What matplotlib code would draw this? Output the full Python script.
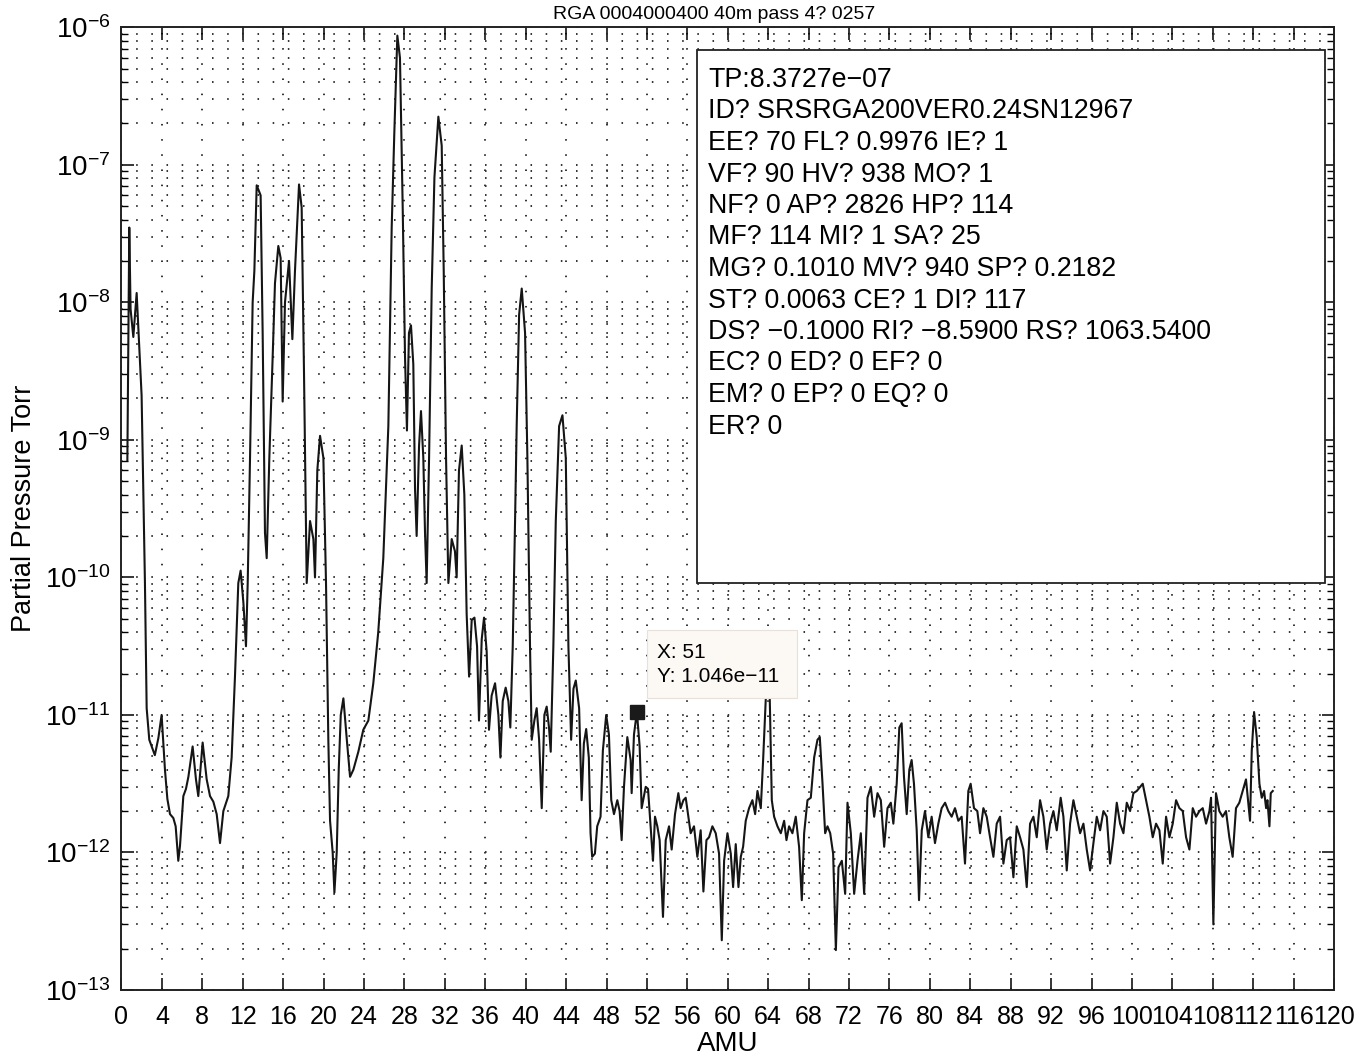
import matplotlib
matplotlib.use("Agg")
import matplotlib.pyplot as plt
from matplotlib.patches import Rectangle
from matplotlib.ticker import LogLocator, FixedLocator, NullFormatter, LogFormatterSciNotation

plt.rcParams['font.family'] = ['Liberation Sans', 'DejaVu Sans']

# ---- data (AMU, partial pressure in Torr) ----
amu = [0.58, 0.77, 0.9, 1.17, 1.5, 1.99, 2.32, 2.49, 2.75, 3.3, 3.65, 3.97, 4.3, 4.54, 4.8,
       5.13, 5.36, 5.62, 5.79, 6.12, 6.38, 6.62, 7.04, 7.37, 7.6, 8.03, 8.43, 8.76, 9.09, 9.42,
       9.75, 10.08, 10.57, 10.9, 11.23, 11.56, 11.79, 12.06, 12.32, 12.49, 12.72, 12.98, 13.15,
       13.38, 13.77, 13.97, 14.2, 14.37, 14.63, 14.96, 15.19, 15.52, 15.75, 15.95, 16.18, 16.58,
       16.91, 17.17, 17.57, 17.83, 18.06, 18.33, 18.66, 18.99, 19.15, 19.38, 19.65, 19.98, 20.24,
       20.47, 20.64, 20.9, 21.07, 21.3, 21.5, 21.7, 21.96, 22.3, 22.62, 22.95, 23.44, 23.93,
       24.43, 24.92, 25.41, 25.91, 26.41, 26.74, 27.0, 27.3, 27.56, 27.83, 28.06, 28.25, 28.45,
       28.65, 28.88, 29.05, 29.21, 29.45, 29.64, 29.87, 30.04, 30.2, 30.44, 30.7, 30.97, 31.36,
       31.69, 31.89, 32.12, 32.35, 32.68, 33.0, 33.17, 33.4, 33.67, 33.93, 34.16, 34.4, 34.66,
       34.93, 35.19, 35.38, 35.65, 35.88, 36.14, 36.37, 36.63, 36.97, 37.3, 37.5, 37.73, 38.02,
       38.29, 38.48, 38.72, 38.95, 39.11, 39.35, 39.61, 39.94, 40.17, 40.43, 40.6, 40.86, 41.09,
       41.33, 41.59, 41.85, 42.08, 42.31, 42.48, 42.74, 42.98, 43.31, 43.64, 43.97, 44.23, 44.5,
       44.73, 44.96, 45.29, 45.54, 45.76, 45.99, 46.25, 46.42, 46.58, 46.85, 47.08, 47.41, 47.64,
       47.97, 48.24, 48.47, 48.74, 49.07, 49.3, 49.5, 49.73, 50.06, 50.39, 50.49, 50.72, 51.0,
       51.12, 51.28, 51.48, 51.88, 52.11, 52.37, 52.6, 52.8, 53.03, 53.26, 53.59, 53.86, 54.19,
       54.45, 54.78, 55.11, 55.34, 55.61, 55.84, 56.1, 56.33, 56.66, 56.99, 57.32, 57.59, 57.89,
       58.15, 58.48, 58.81, 59.14, 59.41, 59.64, 59.97, 60.3, 60.53, 60.79, 61.06, 61.29, 61.52,
       61.78, 62.11, 62.44, 62.71, 62.94, 63.27, 63.5, 63.76, 64.0, 64.16, 64.36, 64.59, 64.92,
       65.25, 65.58, 65.81, 66.07, 66.4, 66.73, 67.06, 67.33, 67.56, 67.89, 68.22, 68.55, 68.88,
       69.11, 69.38, 69.64, 69.87, 70.14, 70.43, 70.7, 70.96, 71.29, 71.62, 71.85, 72.18, 72.51,
       72.84, 73.17, 73.5, 73.83, 74.16, 74.49, 74.82, 75.15, 75.48, 75.81, 76.14, 76.39, 76.72,
       76.98, 77.21, 77.44, 77.71, 77.97, 78.2, 78.43, 78.7, 78.93, 79.2, 79.52, 79.85, 80.18,
       80.51, 80.84, 81.17, 81.51, 81.83, 82.16, 82.49, 82.82, 83.15, 83.48, 83.81, 84.04, 84.37,
       84.7, 84.97, 85.3, 85.63, 85.96, 86.29, 86.62, 86.95, 87.28, 87.61, 87.94, 88.27, 88.6,
       88.93, 89.26, 89.59, 89.92, 90.25, 90.58, 90.91, 91.24, 91.57, 91.9, 92.23, 92.56, 92.95,
       93.22, 93.55, 93.88, 94.21, 94.54, 94.87, 95.2, 95.53, 95.86, 96.19, 96.52, 96.85, 97.18,
       97.51, 97.84, 98.17, 98.5, 98.83, 99.16, 99.49, 99.82, 100.15, 100.48, 100.81, 101.07,
       101.4, 101.73, 102.06, 102.39, 102.72, 103.05, 103.38, 103.71, 104.04, 104.37, 104.7,
       105.03, 105.36, 105.69, 106.02, 106.35, 106.68, 107.01, 107.34, 107.67, 107.83, 108.06,
       108.32, 108.65, 108.98, 109.31, 109.64, 109.97, 110.3, 110.63, 110.96, 111.29, 111.52,
       111.69, 111.86, 112.09, 112.35, 112.62, 112.85, 113.08, 113.28, 113.41, 113.61, 113.74,
       113.94]

pressure = [7.1e-10, 3.5e-8, 8.9e-9, 5.6e-9, 1.17e-8, 2.1e-9, 9.1e-11, 1.12e-11, 6.6e-12, 5.1e-12,
            6.8e-12, 1.0e-11, 4.0e-12, 2.45e-12, 1.9e-12, 1.78e-12, 1.55e-12, 8.7e-13, 1.12e-12,
            2.57e-12, 2.9e-12, 3.55e-12, 5.9e-12, 3.4e-12, 2.57e-12, 6.3e-12, 3.4e-12, 2.57e-12,
            2.34e-12, 1.9e-12, 1.17e-12, 2.0e-12, 2.57e-12, 4.9e-12, 1.9e-11, 9.1e-11, 1.12e-10,
            6.6e-11, 3.16e-11, 9.1e-11, 7.4e-10, 1.0e-8, 1.7e-8, 7.1e-8, 6.0e-8, 6.0e-9, 2.1e-10,
            1.38e-10, 7.4e-10, 4.0e-9, 1.38e-8, 2.57e-8, 2.1e-8, 1.9e-9, 1.0e-8, 2.0e-8, 5.4e-9,
            1.7e-8, 7.2e-8, 4.9e-8, 3.16e-9, 9.1e-11, 2.57e-10, 1.9e-10, 1.0e-10, 6.0e-10, 1.07e-9,
            7.4e-10, 9.1e-11, 6.6e-12, 1.7e-12, 1.0e-12, 5.1e-13, 1.0e-12, 4.0e-12, 1.0e-11,
            1.32e-11, 6.6e-12, 3.55e-12, 4.0e-12, 5.4e-12, 7.8e-12, 9.1e-12, 1.7e-11, 4.0e-11,
            1.38e-10, 1.26e-9, 3.5e-8, 1.7e-7, 8.7e-7, 6.0e-7, 4.9e-8, 4.0e-9, 1.17e-9, 6.0e-9,
            6.8e-9, 3.55e-9, 4.4e-10, 2.0e-10, 9.1e-10, 1.62e-9, 7.4e-10, 2.1e-10, 9.1e-11, 7.4e-10,
            1.26e-8, 8.1e-8, 2.24e-7, 1.38e-7, 1.7e-8, 7.4e-10, 9.1e-11, 1.9e-10, 1.55e-10, 1.0e-10,
            6.0e-10, 9.1e-10, 4.0e-10, 5.4e-11, 1.9e-11, 4.9e-11, 5.1e-11, 3.16e-11, 9.1e-12,
            3.55e-11, 5.1e-11, 2.9e-11, 7.8e-12, 1.38e-11, 1.7e-11, 1.0e-11, 4.9e-12, 1.26e-11,
            1.58e-11, 1.26e-11, 8.1e-12, 3.16e-11, 2.57e-10, 1.26e-9, 8.1e-9, 1.26e-8, 6.0e-9,
            7.4e-10, 3.16e-11, 6.6e-12, 9.1e-12, 1.12e-11, 6.6e-12, 2.1e-12, 1.0e-11, 1.15e-11,
            8.1e-12, 5.4e-12, 3.16e-11, 2.57e-10, 1.26e-9, 1.51e-9, 7.4e-10, 3.16e-11, 6.6e-12,
            1.55e-11, 1.78e-11, 1.12e-11, 2.4e-12, 6.2e-12, 7.9e-12, 4.9e-12, 1.38e-12, 9.3e-13,
            9.8e-13, 1.55e-12, 1.82e-12, 5.5e-12, 1.0e-11, 7.2e-12, 2.4e-12, 1.9e-12, 2.4e-12,
            2.0e-12, 1.23e-12, 3.0e-12, 6.9e-12, 4.7e-12, 2.7e-12, 7.2e-12, 1.046e-11, 8.3e-12,
            5.9e-12, 2.1e-12, 3.0e-12, 2.9e-12, 1.55e-12, 8.7e-13, 1.82e-12, 1.55e-12, 1.23e-12,
            3.4e-13, 1.23e-12, 1.55e-12, 1.05e-12, 1.9e-12, 2.7e-12, 2.1e-12, 2.4e-12, 2.5e-12,
            1.82e-12, 1.38e-12, 1.55e-12, 9.3e-13, 1.45e-12, 5.2e-13, 1.23e-12, 1.29e-12, 1.55e-12,
            1.38e-12, 9.8e-13, 2.3e-13, 8.7e-13, 1.38e-12, 9.8e-13, 5.6e-13, 1.15e-12, 5.6e-13,
            9.3e-13, 1.1e-12, 1.7e-12, 2.1e-12, 2.4e-12, 1.9e-12, 2.8e-12, 2.1e-12, 4.7e-12,
            1.29e-11, 2.5e-11, 1.29e-11, 2.4e-12, 1.82e-12, 1.55e-12, 1.38e-12, 1.7e-12, 1.23e-12,
            1.55e-12, 1.38e-12, 1.82e-12, 1.1e-12, 4.5e-13, 1.38e-12, 2.4e-12, 2.5e-12, 4.9e-12,
            6.6e-12, 6.9e-12, 3.16e-12, 1.38e-12, 1.55e-12, 1.38e-12, 9.8e-13, 1.95e-13, 7.8e-13,
            8.7e-13, 5.0e-13, 2.3e-12, 1.38e-12, 5.0e-13, 8.7e-13, 1.38e-12, 5.0e-13, 2.5e-12,
            3.0e-12, 1.82e-12, 2.7e-12, 2.4e-12, 1.1e-12, 2.1e-12, 2.3e-12, 1.62e-12, 3.16e-12,
            8.1e-12, 8.7e-12, 3.55e-12, 1.9e-12, 4.0e-12, 4.7e-12, 3.16e-12, 1.45e-12, 4.5e-13,
            1.45e-12, 2.0e-12, 1.29e-12, 1.82e-12, 1.17e-12, 1.62e-12, 2.1e-12, 2.3e-12, 2.0e-12,
            1.82e-12, 2.1e-12, 1.7e-12, 1.82e-12, 8.3e-13, 2.8e-12, 3.16e-12, 2.1e-12, 2.0e-12,
            1.38e-12, 2.1e-12, 1.82e-12, 1.29e-12, 9.3e-13, 1.62e-12, 1.82e-12, 8.3e-13, 1.23e-12,
            1.29e-12, 6.6e-13, 1.55e-12, 1.29e-12, 1.05e-12, 5.6e-13, 1.62e-12, 1.82e-12, 1.29e-12,
            2.4e-12, 1.82e-12, 1.05e-12, 1.62e-12, 2.0e-12, 1.45e-12, 2.5e-12, 1.82e-12, 7.4e-13,
            1.62e-12, 2.4e-12, 1.82e-12, 1.38e-12, 1.62e-12, 1.05e-12, 7.4e-13, 1.17e-12, 1.82e-12,
            1.45e-12, 2.0e-12, 1.82e-12, 8.3e-13, 1.29e-12, 2.3e-12, 1.62e-12, 1.38e-12, 2.3e-12,
            2.0e-12, 2.7e-12, 2.8e-12, 3.0e-12, 3.16e-12, 2.4e-12, 1.82e-12, 1.29e-12, 1.62e-12,
            1.45e-12, 8.3e-13, 1.82e-12, 1.29e-12, 1.62e-12, 2.4e-12, 2.1e-12, 2.0e-12, 1.29e-12,
            1.05e-12, 2.1e-12, 1.82e-12, 2.0e-12, 2.1e-12, 1.62e-12, 2.0e-12, 2.5e-12, 3.0e-13,
            2.7e-12, 2.0e-12, 1.82e-12, 2.0e-12, 1.29e-12, 9.3e-13, 2.1e-12, 2.3e-12, 2.8e-12,
            3.4e-12, 2.3e-12, 1.7e-12, 5.5e-12, 1.05e-11, 6.9e-12, 3.16e-12, 2.5e-12, 2.8e-12,
            2.1e-12, 2.4e-12, 1.55e-12, 2.7e-12, 2.8e-12]

x_ticks = list(range(0, 121, 4))
x_tick_labels = [str(t) for t in x_ticks]
y_ticks = [1e-13, 1e-12, 1e-11, 1e-10, 1e-9, 1e-8, 1e-7, 1e-6]

title_text = "RGA 0004000400 40m pass 4? 0257"

info_lines = [
    "TP:8.3727e\u221207",
    "ID? SRSRGA200VER0.24SN12967",
    "EE? 70 FL? 0.9976 IE? 1",
    "VF? 90 HV? 938 MO? 1",
    "NF? 0 AP? 2826 HP? 114",
    "MF? 114 MI? 1 SA? 25",
    "MG? 0.1010 MV? 940 SP? 0.2182",
    "ST? 0.0063 CE? 1 DI? 117",
    "DS? \u22120.1000 RI? \u22128.5900 RS? 1063.5400",
    "EC? 0 ED? 0 EF? 0",
    "EM? 0 EP? 0 EQ? 0",
    "ER? 0",
]

tip_x = 51
tip_y = 1.046e-11
tip_lines = ["X: 51", "Y: 1.046e\u221211"]

W, H = 1363, 1057
fig = plt.figure(figsize=(W / 100, H / 100), dpi=100)
ax = fig.add_axes([121.5 / W, 1 - 990 / H, (1334 - 121.5) / W, (990 - 27.3) / H])

ax.semilogy(amu, pressure, color='#151515', lw=1.5, zorder=3)
ax.set_xlim(0, 120)
ax.set_ylim(1e-13, 1e-6)

ax.xaxis.set_major_locator(FixedLocator(x_ticks))
ax.set_xticklabels(x_tick_labels)
ax.yaxis.set_major_locator(FixedLocator(y_ticks))
ax.yaxis.set_major_formatter(LogFormatterSciNotation())
ax.yaxis.set_minor_locator(LogLocator(base=10, subs=range(2, 10), numticks=20))
ax.yaxis.set_minor_formatter(NullFormatter())

dot = (0, (0.8, 7))
ax.grid(True, which='major', axis='both', color='#333333', linestyle=dot, lw=1.4)
ax.grid(True, which='minor', axis='y', color='#333333', linestyle=dot, lw=1.4)

ax.tick_params(which='both', direction='in', top=True, right=True, colors='k')
ax.tick_params(axis='x', which='major', labelsize=18, pad=11)
ax.tick_params(axis='y', which='major', labelsize=20, pad=8)
ax.tick_params(which='major', length=9, width=1.1)
ax.tick_params(which='minor', length=5, width=1.0)
for s in ax.spines.values():
    s.set_linewidth(1.4)
    s.set_color('#222222')

ax.set_xlabel("AMU", fontsize=20, labelpad=1)
ax.set_ylabel("Partial Pressure Torr", fontsize=19.5, labelpad=6)

# title, squeezed into the thin strip above the axes
fig.text(714 / W, 1 - 19 / H, title_text, fontsize=14, ha='center', va='baseline')

# data tip
ax.plot([tip_x], [tip_y], marker='s', ms=10.5, color='#1a1a1a', zorder=6, ls='none')
fig.add_artist(Rectangle((647 / W, 1 - 698 / H), (797 - 647) / W, (698 - 630) / H,
                         transform=fig.transFigure, facecolor='#fcf8f4', edgecolor='#e8e0da',
                         lw=0.8, zorder=5))
for i, t in enumerate(tip_lines):
    fig.text(657 / W, 1 - (658 + 24 * i) / H, t, fontsize=15, va='baseline', ha='left', zorder=6)

# info text box
fig.add_artist(Rectangle((697 / W, 1 - 583 / H), (1325 - 697) / W, (583 - 50) / H,
                         transform=fig.transFigure, facecolor='white', edgecolor='#222222',
                         lw=1.3, zorder=5))
for i, t in enumerate(info_lines):
    fig.text(708 / W, 1 - (87 + 31.5 * i) / H, t, fontsize=19.3, va='baseline', ha='left', zorder=6)

fig.savefig("out.png", dpi=100)
